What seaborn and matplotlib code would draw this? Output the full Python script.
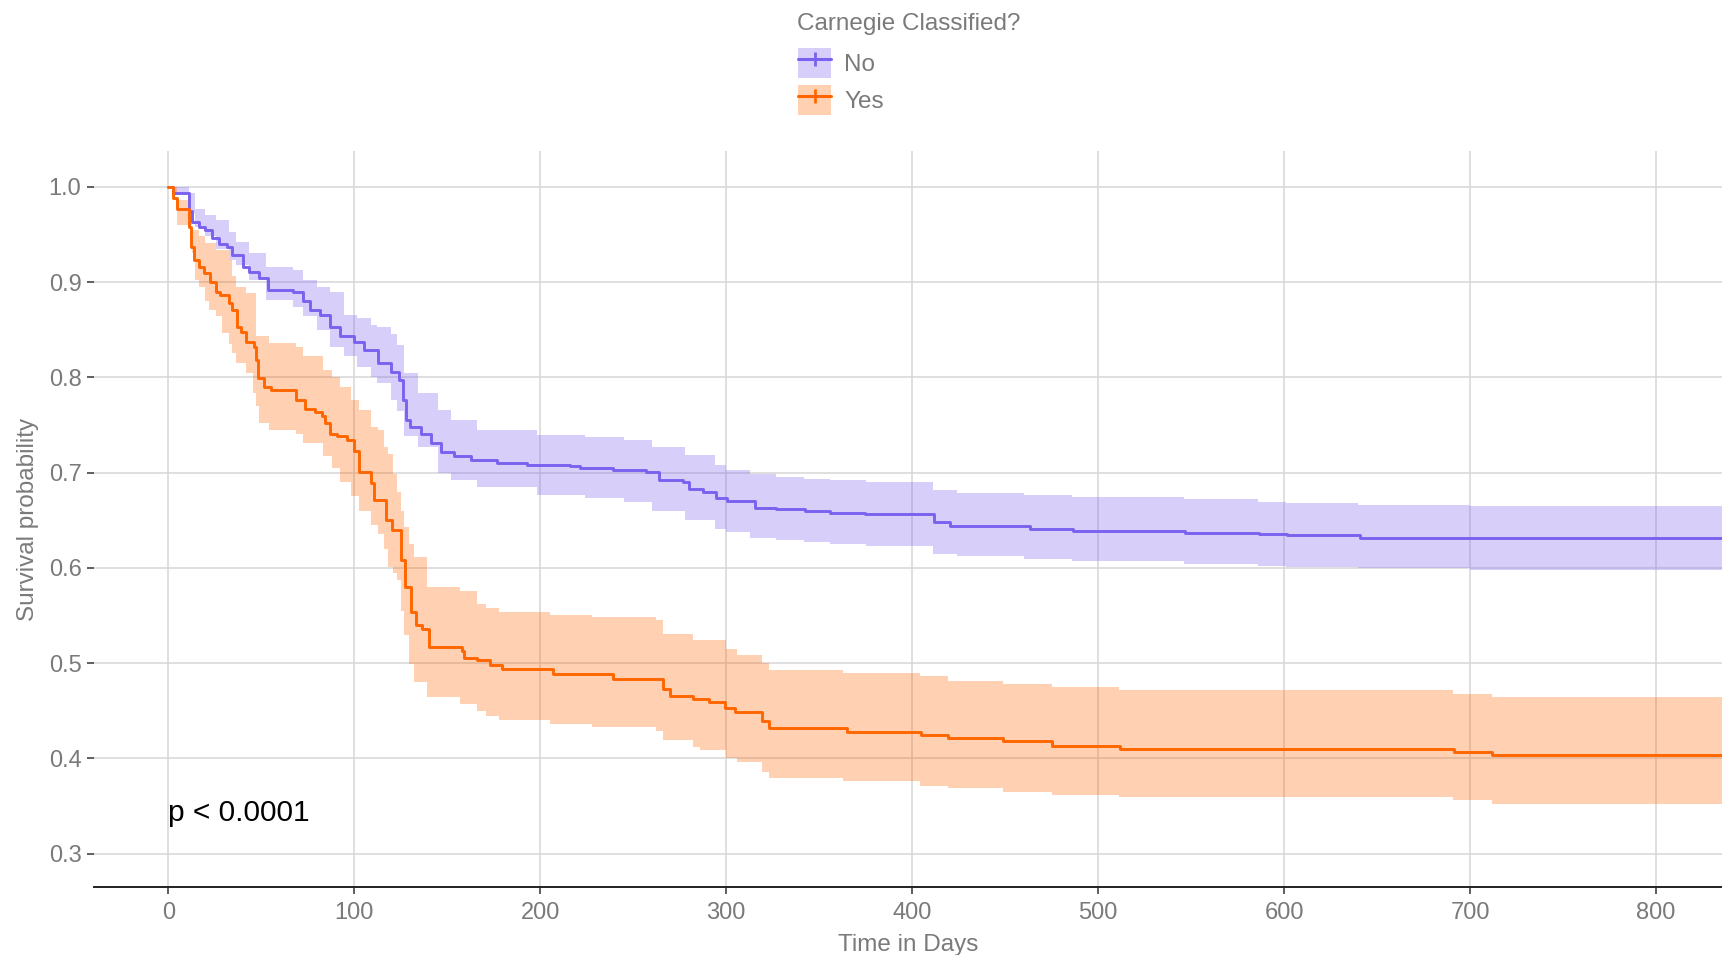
import numpy as np
import pandas as pd
import matplotlib
matplotlib.use("Agg")
import matplotlib.pyplot as plt
import seaborn as sns
from matplotlib.patches import Patch
from matplotlib.lines import Line2D

# ---------------- data ----------------
groups = ["No", "Yes"]
legend_title = "Carnegie Classified?"

no_time = [0, 2.7, 10.9, 12.7, 16.3, 19.9, 23.6, 27.2, 31.7, 34.4, 39.9, 43.5, 48.9, 53.4, 67, 72.5,
           76, 81.5, 87, 92.4, 99.6, 105, 112.5, 119.6, 124, 126, 127.7, 130, 135.7, 141, 146.4,
           153.6, 162.5, 176.8, 192.9, 216, 221.4, 239.3, 257, 264, 276.8, 280, 287.5, 294.6,
           300.4, 315.6, 327, 342.5, 356, 374.7, 411.5, 420.4, 463.4, 486.7, 546.8, 586.7, 601.4,
           640.6, 840]
no_surv = [1.0, 0.993, 0.975, 0.963, 0.958, 0.955, 0.946, 0.94, 0.937, 0.928, 0.916, 0.91, 0.904,
           0.892, 0.89, 0.88, 0.871, 0.865, 0.853, 0.843, 0.837, 0.829, 0.815, 0.806, 0.797, 0.776,
           0.755, 0.748, 0.741, 0.731, 0.722, 0.717, 0.713, 0.71, 0.708, 0.707, 0.705, 0.703, 0.701,
           0.692, 0.69, 0.683, 0.68, 0.673, 0.67, 0.663, 0.662, 0.66, 0.658, 0.656, 0.648, 0.644,
           0.641, 0.639, 0.637, 0.636, 0.634, 0.631, 0.631]

no_band_time = [0, 2.7, 10.9, 14.5, 19.9, 25.4, 32.6, 36.2, 43.5, 52.5,
                67, 72.5, 79.7, 87, 94.2, 101.4, 108.7, 112.3, 119.6, 123.2,
                126.8, 134, 145, 152, 166, 198, 224, 245, 260, 278,
                294, 300, 313, 327, 342, 356, 375, 411, 424, 460,
                486, 546, 586, 601, 640, 700, 840]
no_upper = [1.0, 1.0, 0.993, 0.977, 0.97, 0.965, 0.953, 0.942, 0.93, 0.916,
            0.913, 0.902, 0.895, 0.89, 0.865, 0.862, 0.855, 0.853, 0.845, 0.834,
            0.804, 0.783, 0.766, 0.755, 0.745, 0.739, 0.737, 0.734, 0.727, 0.718,
            0.708, 0.703, 0.698, 0.695, 0.693, 0.692, 0.69, 0.682, 0.679, 0.676,
            0.674, 0.672, 0.669, 0.668, 0.666, 0.665, 0.665]
no_lower = [1.0, 0.993, 0.972, 0.958, 0.948, 0.935, 0.923, 0.918, 0.902, 0.881,
            0.874, 0.864, 0.85, 0.832, 0.822, 0.811, 0.80, 0.794, 0.776, 0.765,
            0.738, 0.727, 0.70, 0.692, 0.685, 0.676, 0.673, 0.669, 0.66, 0.65,
            0.641, 0.638, 0.631, 0.629, 0.627, 0.625, 0.623, 0.615, 0.612, 0.609,
            0.607, 0.604, 0.602, 0.601, 0.6, 0.598, 0.598]

yes_time = [0, 2.7, 4.5, 10.9, 12.3, 13.6, 16.3, 19, 22.6, 25.4, 28, 32.6, 34.4, 37.1, 39, 41.7,
            46.2, 47.1, 48, 51.6, 55.3, 68.8, 73.4, 78.8, 82.4, 84.2, 87, 90.6, 96, 99.6, 102.7,
            108.9, 110.7, 117, 120.5, 125, 127, 130.4, 133, 136.6, 140, 158, 159, 166, 173, 179.5,
            207, 239, 266, 269.6, 282, 291, 299.5, 304.8, 319, 322.8, 365, 405, 419.5, 449, 475,
            511.8, 691.6, 712, 840]
yes_surv = [1.0, 0.988, 0.977, 0.958, 0.937, 0.923, 0.916, 0.909, 0.9, 0.89, 0.886, 0.878, 0.871,
            0.853, 0.848, 0.837, 0.832, 0.818, 0.799, 0.79, 0.787, 0.776, 0.767, 0.764, 0.759,
            0.752, 0.741, 0.738, 0.734, 0.723, 0.701, 0.689, 0.671, 0.65, 0.64, 0.608, 0.58,
            0.554, 0.54, 0.536, 0.517, 0.513, 0.505, 0.503, 0.498, 0.494, 0.489, 0.483, 0.473,
            0.466, 0.462, 0.459, 0.453, 0.449, 0.439, 0.432, 0.428, 0.425, 0.421, 0.418, 0.413,
            0.41, 0.407, 0.404, 0.404]

yes_band_time = [0, 2.7, 4.5, 10.9, 12.7, 14.5, 16.3, 19.9, 21.7, 25.4,
                 29, 32.6, 34.4, 36.2, 41.7, 45.3, 47.1, 48.9, 54.3, 68.8,
                 72.5, 83.3, 88, 92.4, 98.2, 102.7, 108.9, 112.5, 116, 118,
                 121, 123, 125, 126.8, 129.5, 132, 139, 157, 166, 171,
                 178, 205, 228, 262, 266, 282, 286, 300, 306, 319,
                 322.8, 363, 404, 419, 449, 475, 511, 691, 712, 840]
yes_upper = [1.0, 1.0, 0.986, 0.975, 0.955, 0.955, 0.948, 0.941, 0.941, 0.934,
             0.934, 0.923, 0.906, 0.895, 0.888, 0.888, 0.843, 0.843, 0.836, 0.832,
             0.822, 0.808, 0.80, 0.79, 0.776, 0.766, 0.748, 0.745, 0.727, 0.72,
             0.699, 0.68, 0.66, 0.643, 0.625, 0.611, 0.58, 0.576, 0.562, 0.558,
             0.554, 0.55, 0.548, 0.545, 0.531, 0.524, 0.524, 0.515, 0.508, 0.50,
             0.493, 0.49, 0.486, 0.481, 0.478, 0.475, 0.472, 0.468, 0.464, 0.464]
yes_lower = [1.0, 0.993, 0.96, 0.96, 0.93, 0.902, 0.895, 0.88, 0.871, 0.864,
             0.846, 0.835, 0.825, 0.815, 0.804, 0.783, 0.77, 0.752, 0.745, 0.741,
             0.731, 0.717, 0.705, 0.69, 0.675, 0.66, 0.645, 0.636, 0.62, 0.601,
             0.595, 0.587, 0.555, 0.53, 0.499, 0.48, 0.464, 0.457, 0.45, 0.445,
             0.44, 0.436, 0.433, 0.429, 0.419, 0.412, 0.409, 0.40, 0.396, 0.386,
             0.379, 0.376, 0.371, 0.369, 0.365, 0.362, 0.359, 0.356, 0.352, 0.352]

x_ticks = [0, 100, 200, 300, 400, 500, 600, 700, 800]
y_ticks = [0.3, 0.4, 0.5, 0.6, 0.7, 0.8, 0.9, 1.0]
p_label = "p < 0.0001"

# ---------------- style ----------------
sns.set_theme(style="white")
plt.rcParams["font.family"] = ["Liberation Sans", "DejaVu Sans"]
text_grey = "#7a7a7a"
colors = {"No": "#7b62ee", "Yes": "#ff6600"}

curves = pd.concat([
    pd.DataFrame({"time": no_time, "surv": no_surv, "group": "No"}),
    pd.DataFrame({"time": yes_time, "surv": yes_surv, "group": "Yes"}),
], ignore_index=True)
bands = {
    "No": (no_band_time, no_lower, no_upper),
    "Yes": (yes_band_time, yes_lower, yes_upper),
}

W, H, DPI = 1722, 955, 100
fig = plt.figure(figsize=(W / DPI, H / DPI), dpi=DPI)
ax = fig.add_axes([94 / W, 1 - 887 / H, 1 - 94 / W, (887 - 151.5) / H])

for g in groups:
    t, lo, hi = bands[g]
    ax.fill_between(t, lo, hi, step="post", color=colors[g], alpha=0.3, linewidth=0, zorder=2)

sns.lineplot(data=curves, x="time", y="surv", hue="group", palette=colors,
             drawstyle="steps-post", estimator=None, linewidth=2.1, legend=False,
             ax=ax, zorder=3)

ax.set_xlim(-40, 835.5)
ax.set_ylim(0.265, 1.037)
ax.set_xticks(x_ticks)
ax.set_yticks(y_ticks)
ax.set_xticklabels([str(v) for v in x_ticks])
ax.set_yticklabels([f"{v:.1f}" for v in y_ticks])
ax.grid(True, color="#d6d6d6", linewidth=1.1, zorder=0)
ax.set_axisbelow(True)
for s in ["top", "right", "left"]:
    ax.spines[s].set_visible(False)
ax.spines["bottom"].set_color("#222222")
ax.spines["bottom"].set_linewidth(1.4)
ax.tick_params(axis="x", which="major", length=5, width=1.1, color="#333333",
               labelsize=17, labelcolor=text_grey, pad=6, bottom=True)
ax.tick_params(axis="y", which="major", length=5, width=1.1, color="#333333",
               labelsize=17, labelcolor=text_grey, pad=4, left=True)
ax.set_xlabel("Time in Days", fontsize=17.5, color=text_grey, labelpad=7)
ax.set_ylabel("Survival probability", fontsize=17.5, color=text_grey, labelpad=7)

ax.text(0, 0.343, p_label, fontsize=21.5, color="black", ha="left", va="center", zorder=4)

# legend (title drawn separately so spacing can match)
fig.text(797 / W, 1 - 24 / H, legend_title, fontsize=17.5, color=text_grey,
         ha="left", va="center")
handles = [(Patch(facecolor=colors[g], alpha=0.3, edgecolor="none"),
            Line2D([], [], color=colors[g], linewidth=2.2, marker="+", markersize=10,
                   markeredgewidth=2))
           for g in groups]
leg = fig.legend(handles, groups, loc="upper left",
                 bbox_to_anchor=(798 / W, 1 - 48 / H), frameon=False, fontsize=17.5,
                 handlelength=1.36, handleheight=1.5,
                 handletextpad=0.55, labelspacing=0.3,
                 borderaxespad=0.0, borderpad=0.0)
for txt in leg.get_texts():
    txt.set_color(text_grey)

fig.savefig("out.png", dpi=DPI)
